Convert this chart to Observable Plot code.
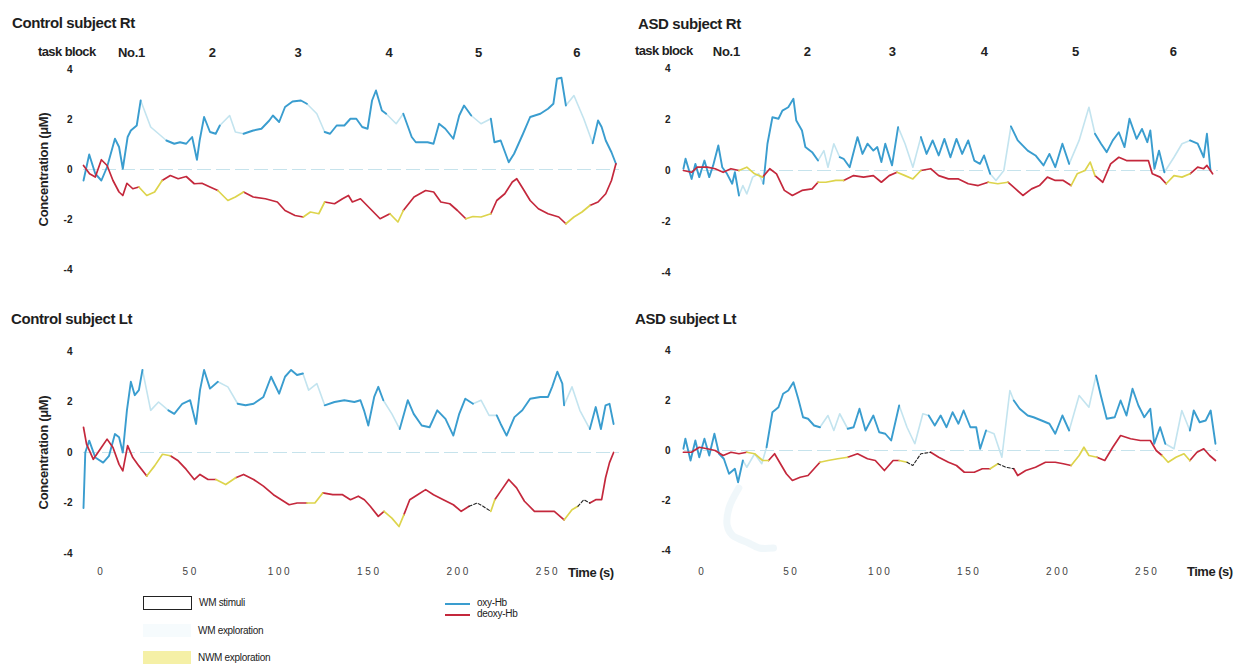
<!DOCTYPE html>
<html><head><meta charset="utf-8">
<script src="https://cdn.jsdelivr.net/npm/d3@7"></script>
<script src="https://cdn.jsdelivr.net/npm/@observablehq/plot@0.6"></script>
<style>
body{margin:0;background:#fff;font-family:"Liberation Sans",Arial,sans-serif;}
#root{position:relative;width:1235px;height:666px;overflow:hidden;background:#fff;}
.abs{position:absolute;white-space:nowrap;color:#1e1e1e;}
.title{font-size:15px;font-weight:bold;letter-spacing:-0.4px;line-height:15px;}
.tb{font-size:13px;font-weight:bold;letter-spacing:-0.6px;line-height:13px;}
.tl{font-size:13px;font-weight:bold;letter-spacing:-0.5px;line-height:13px;}
.lg{font-size:10px;letter-spacing:-0.3px;line-height:10px;color:#222;}
.panel{position:absolute;}
.panel svg{overflow:visible;}
g[aria-label="y-axis tick label"] text{font-weight:bold;font-size:10px;fill:#222;}
g[aria-label="y-axis label"] text{font-weight:bold;font-size:13px;letter-spacing:-0.3px;fill:#222;}
g[aria-label="x-axis tick label"] text{font-size:10px;letter-spacing:2.6px;fill:#444;}
g[aria-label="text"] text{font-weight:bold;font-size:13px;letter-spacing:-0.3px;fill:#222;}
</style>
</head><body>
<div id="root"></div>
<script>
// ---------- data (time s, concentration µM) ----------
const tickTimes = [0, 50, 100, 150, 200, 250];
const yTicks = [-4, -2, 0, 2, 4];
const blockLabels = ["No.1", "2", "3", "4", "5", "6"];
const blocksCtrl = [16.8, 62, 110, 161, 211, 266];
const blocksAsd = [13.5, 59, 106.7, 158.4, 209.6, 264.6];

const ctrlRtOxy = [[-10,-0.44],[-6.8,0.6],[-3.4,-0.17],[0,-0.44],[3.2,0.1],[7.6,1.23],[9.9,0.9],[12,0.03],[14.7,1.3],[16.5,1.56],[19.8,1.76],[22,2.76],[27.6,1.7],[32,1.43],[36.4,1.16],[40.8,1.03],[44,1.09],[47.5,1.03],[50.8,1.3],[53.5,0.39],[55,1.16],[57.5,2.1],[60.8,1.5],[64,1.43],[66.3,1.76],[71.8,2.16],[75,1.5],[79.6,1.43],[85,1.56],[89.6,1.63],[94,1.96],[96,2.16],[99.5,1.9],[102.8,2.5],[107,2.72],[111.7,2.76],[115,2.63],[120.6,2.23],[125,1.5],[128,1.43],[131.7,1.76],[136,1.76],[139.4,2.03],[142.7,2.03],[146,1.7],[149,1.63],[151.5,2.76],[153.7,3.16],[157,2.36],[159.4,2.23],[165,1.83],[169,2.23],[173.7,1.3],[176,1.09],[182.6,1.09],[185.9,1.03],[189,1.83],[192.5,1.63],[197,1.23],[200.3,2.16],[203,2.56],[207,2.16],[212.5,1.83],[218,2.03],[220,1.09],[223.5,1.16],[228,0.29],[231,0.63],[236,1.43],[240,2.1],[245.7,2.23],[250,2.43],[253,2.63],[255,3.63],[257.5,3.67],[260,2.56],[264.5,2.96],[270,2.03],[275,1.05],[278,1.96],[280,1.7],[282.3,1.16],[285.5,0.69],[288,0.23]];
const ctrlRtDeoxy = [[-10,0.16],[-6.6,-0.17],[-3.4,-0.3],[0,0.39],[3.2,0.16],[6.5,-0.44],[9.9,-0.9],[12,-1.04],[14.3,-0.55],[17.6,-0.77],[21,-0.7],[25.4,-1.04],[29.8,-0.9],[34,-0.44],[38.6,-0.24],[43,-0.37],[47.5,-0.28],[52,-0.57],[56.3,-0.55],[60.8,-0.7],[65.2,-0.84],[70.8,-1.24],[75,-1.1],[79.6,-0.9],[85,-1.1],[91.8,-1.17],[98.5,-1.3],[102.8,-1.64],[108.4,-1.84],[113,-1.9],[117,-1.7],[121.7,-1.77],[125,-1.3],[130.5,-1.37],[135,-1.17],[138.3,-1.04],[140.5,-1.3],[145,-1.17],[150.5,-1.57],[156,-1.97],[161.5,-1.77],[166,-2.1],[169,-1.64],[175,-1.1],[181.5,-0.84],[186,-0.9],[190,-1.3],[195,-1.37],[199.3,-1.64],[204,-1.97],[208,-1.88],[212.5,-1.9],[218,-1.77],[221.3,-1.24],[225.8,-0.97],[230,-0.5],[232.5,-0.37],[236,-0.77],[240,-1.24],[244.6,-1.57],[250,-1.77],[256,-1.9],[260,-2.17],[264.5,-1.9],[269,-1.7],[273.4,-1.44],[278,-1.3],[282.3,-0.97],[285.5,-0.44],[288,0.23]];
const ctrlRtExplore = [[23,35],[66,78],[114,124],[160,171],[206,218],[261,273]];

const asdRtOxy = [[-10.6,0.07],[-9.4,0.46],[-6,-0.33],[-3.9,0.26],[-1.7,-0.26],[1.2,0.39],[3.9,-0.26],[6.1,0.2],[9,0.98],[11.2,0.13],[13.9,-0.13],[16.8,-0.52],[18.3,-0.07],[20.6,-0.98],[22.8,-0.59],[25,-0.92],[28.3,-0.26],[31.7,-0.13],[34.3,-0.52],[36.6,1.05],[39.4,2.09],[42.8,2.03],[45,2.35],[48.3,2.48],[51.2,2.81],[52.8,1.96],[56,1.57],[57.9,0.92],[61.7,0.72],[65,0.39],[68.3,0.78],[70.6,0.13],[73.9,1.05],[77.2,0.52],[79.4,0.46],[82.8,0.13],[87.2,1.31],[90,0.65],[92.8,1.05],[96.1,0.78],[98.3,0.92],[100.6,0.33],[102.8,1.05],[106.6,0.2],[110,1.7],[113.9,1.05],[118.3,0.13],[122.8,1.31],[126,0.65],[129.4,1.18],[132.8,0.59],[136,1.24],[139.4,0.52],[142.8,1.24],[146,0.65],[149.4,1.18],[152.8,0.39],[156,0.26],[158.3,0.59],[161.7,-0.13],[165,-0.39],[169.4,0],[173.4,1.73],[177.2,1.18],[182.8,0.78],[187.2,0.59],[191.7,0.2],[195,0.65],[198.3,0.13],[202.3,1.05],[206.1,0.26],[211.7,1.18],[217.2,2.48],[220.6,1.44],[224,1.05],[227.2,0.72],[230.6,1.18],[234,1.5],[237.2,0.92],[240,2.03],[244,1.24],[247,1.63],[250,1.11],[251.7,1.57],[254,0.07],[256.6,0.78],[259.6,-0.07],[265,0.52],[269.5,1.05],[274,1.18],[278.3,1.05],[281.7,0.52],[283.5,1.44],[285.5,0]];
const asdRtDeoxy = [[-10.6,0],[-6,-0.07],[-2.8,0.13],[2.8,0.13],[7.2,0.07],[11.7,-0.07],[16.1,0.07],[20.6,0],[25,0.13],[29.4,-0.13],[33.9,-0.26],[37.9,0.07],[41.7,-0.13],[46.1,-0.78],[50.6,-0.98],[56,-0.78],[61.7,-0.72],[65,-0.46],[69.4,-0.46],[75,-0.39],[79.4,-0.39],[85,-0.2],[90.6,-0.26],[96.1,-0.2],[100.6,-0.46],[105,-0.2],[109.4,-0.07],[113.9,-0.2],[118.3,-0.33],[122.8,0],[128.3,0.07],[132.8,-0.2],[138.3,-0.33],[143.9,-0.33],[149.4,-0.52],[155,-0.59],[160.6,-0.46],[166,-0.52],[171.7,-0.46],[176,-0.72],[180.1,-0.98],[185,-0.72],[189.4,-0.59],[193.9,-0.26],[198.3,-0.39],[202.8,-0.39],[207.2,-0.59],[210.6,-0.13],[215,0],[217.9,0.33],[220.6,-0.2],[225,-0.46],[229.4,0.26],[234,0.52],[238.3,0.39],[245,0.39],[250.6,0.39],[252.8,-0.13],[257.2,-0.26],[260.6,-0.52],[265,-0.2],[269.5,-0.26],[274,-0.13],[278.3,0.13],[281.7,0.07],[283.5,0.2],[286.7,-0.13]];
const asdRtExplore = [[19.5,35],[66,77.5],[111,123],[161,173],[207,220],[260,273]];

const ctrlLtOxy = [[-10,-2.2],[-9,0],[-6.8,0.47],[-3.4,-0.2],[1,-0.4],[4.3,-0.13],[7.6,0.73],[9.9,0.6],[12,0],[14.3,1.67],[16.5,2.8],[18.7,2.27],[21,2.47],[23,3.27],[27.6,1.67],[32,2.0],[37.5,1.67],[40.8,1.53],[45.3,1.93],[49.7,2.07],[53,1.13],[55.2,2.47],[57.5,3.27],[60.8,2.53],[65.2,2.8],[70.8,2.6],[76.3,1.93],[80.7,1.87],[85.2,1.93],[90.7,2.2],[95,3.0],[99.5,2.33],[102.8,3.0],[106.2,3.27],[109.5,3.07],[112.8,3.13],[116,2.47],[120.6,2.73],[125,1.87],[130.5,2.0],[136,2.07],[141.6,2.0],[145,2.07],[147,1.67],[149.4,1.07],[152.7,2.2],[155,2.6],[157.8,2.07],[162.6,1.53],[167,0.93],[171.5,2.07],[174.8,1.53],[179.3,1.07],[183.7,1.0],[188,1.67],[192.6,1.33],[197,0.67],[200.3,1.53],[203.7,2.13],[208,1.93],[212.5,2.07],[217,1.47],[221.3,1.47],[223.5,1.13],[226.8,0.67],[231.2,1.4],[235.6,1.67],[240,2.13],[245.7,2.2],[250,2.2],[252.3,2.6],[255.2,3.2],[258,2.73],[259,1.87],[263.4,2.6],[267.8,1.67],[273.4,0.93],[276.7,1.8],[279.6,0.93],[282.2,1.87],[284.4,1.93],[286.7,1.13]];
const ctrlLtDeoxy = [[-10,1.0],[-8.3,0.33],[-4.5,-0.27],[0,0.2],[3.2,0.53],[6.5,0.2],[9.9,-0.47],[12,-0.73],[14.7,0.27],[17.6,-0.2],[21,-0.53],[25.4,-0.93],[29.8,-0.53],[34.2,-0.07],[38.6,-0.13],[43,-0.33],[47.5,-0.67],[52,-1.07],[55.2,-0.87],[59.7,-1.07],[64.1,-1.07],[69.6,-1.27],[75.2,-1.0],[79.6,-0.87],[85.2,-1.07],[90.7,-1.33],[96.3,-1.67],[100.7,-1.87],[105.1,-2.07],[109.6,-2.0],[115,-2.0],[119.5,-2.0],[123.9,-1.6],[129.5,-1.67],[135,-1.67],[139.4,-1.87],[143.8,-1.73],[147.2,-1.87],[150.5,-2.13],[155,-2.53],[158.2,-2.33],[162.6,-2.6],[166.6,-2.93],[169.3,-2.47],[172.6,-1.87],[177,-1.67],[181.5,-1.47],[185.9,-1.67],[191.4,-1.87],[197,-2.07],[201.4,-2.33],[205.8,-2.13],[210.3,-2.0],[213.6,-2.13],[218,-2.33],[220.2,-1.87],[223.5,-1.53],[228,-1.07],[232.4,-1.4],[236.8,-1.93],[242.4,-2.33],[248,-2.33],[253.5,-2.33],[259,-2.67],[263.4,-2.27],[266.7,-2.13],[270,-1.87],[273.4,-2.0],[276.7,-1.87],[280,-1.87],[282.2,-1.0],[284.4,-0.4],[286.7,0]];
const ctrlLtExplore = [[24,36.5],[66,76.5],[114,124],[157,169],[208,220],[260,273]];
const ctrlLtStim = [[207,219],[267,272]];

const asdLtOxy = [[-10.6,0.07],[-9.5,0.47],[-6.6,-0.4],[-3.9,0.4],[-1.7,-0.27],[1.2,0.47],[3.9,-0.2],[6.8,0.67],[9.4,-0.13],[12.1,-0.33],[15,-0.93],[18.3,-0.73],[20.1,-1.27],[22.8,-0.4],[25,-0.67],[29.4,-0.13],[33.4,-0.53],[36.1,0.13],[39.4,1.53],[42.8,1.73],[45.4,2.27],[48.3,2.4],[51.2,2.73],[53.9,2.07],[56.6,1.33],[59.4,1.27],[62.8,1.0],[66.1,0.93],[70.6,1.4],[73.9,0.8],[77.2,1.47],[81.7,0.87],[85,0.93],[88.3,1.67],[91.7,0.8],[96.1,1.4],[99.4,0.73],[102.8,0.67],[106.1,0.4],[110.6,1.8],[115,0.93],[119.4,0.27],[123.9,1.47],[127.2,1.4],[130.6,1.0],[133.9,1.4],[137.2,0.93],[140.6,1.53],[143.9,1.07],[146.8,1.6],[150.6,0.93],[153.9,0.93],[156.1,0.07],[159.4,0.8],[163.9,0.67],[168.3,-0.27],[172.8,2.4],[175,2.0],[178.3,1.67],[182.8,1.4],[186.1,1.33],[190.6,1.2],[195,1.07],[198.3,0.67],[202.3,1.4],[206.1,0.8],[211.7,2.2],[217.2,1.73],[221.2,3.0],[223.9,2.2],[227.2,1.27],[231.7,1.33],[235,2.0],[238.3,1.4],[241.7,2.47],[245,1.8],[248.3,1.33],[251.7,1.67],[253.9,0.27],[257.2,0.93],[260.1,0.27],[265,0.07],[269.4,1.6],[273.9,0.8],[276.1,1.6],[279.4,1.13],[282.8,1.2],[285.6,1.6],[288.3,0.27]];
const asdLtDeoxy = [[-10.6,-0.07],[-6.1,-0.07],[-1.7,0.13],[2.8,0.07],[7.2,0],[11.7,-0.2],[16.1,-0.07],[20.6,-0.13],[25,-0.07],[29.4,-0.13],[33.9,-0.4],[37.2,-0.4],[40.6,-0.13],[43.9,-0.53],[47.2,-0.93],[50.6,-1.2],[55,-1.07],[59.4,-1.0],[62.8,-0.73],[66.1,-0.47],[70.6,-0.4],[76.1,-0.33],[81.7,-0.27],[87.2,-0.13],[92.8,-0.33],[97.2,-0.4],[102.3,-0.8],[107.2,-0.4],[110.6,-0.4],[115,-0.47],[118.3,-0.6],[122.8,-0.13],[128.3,-0.07],[132.8,-0.27],[138.3,-0.47],[142.8,-0.6],[147.2,-0.87],[152.8,-0.87],[157.3,-0.73],[161.7,-0.73],[166.1,-0.53],[170.6,-0.67],[175,-0.73],[177.2,-1.0],[181.7,-0.8],[187.2,-0.67],[192.8,-0.47],[198.3,-0.47],[202.8,-0.53],[207.2,-0.6],[211.7,-0.2],[214.4,0.13],[217.2,-0.2],[221.7,-0.27],[226.1,-0.4],[230.6,0.13],[235,0.6],[240.6,0.47],[246.1,0.4],[251.7,0.4],[255,0],[258.3,-0.2],[261.7,-0.47],[266.1,-0.27],[270.6,-0.13],[273.9,-0.4],[277.9,-0.07],[281.7,0.07],[285,-0.2],[288.3,-0.4]];
const asdLtExplore = [[23,36],[66,80],[111,126],[160,174],[207,220],[260,273]];
const asdLtStim = [[113,126],[164,175]];
const asdLtSmudge = [[20.5,-1.5],[15,-2.3],[14,-3.0],[17,-3.4],[21,-3.55],[26,-3.7],[32,-3.9],[40,-3.9]];

// ---------- styling ----------
const oxyColor = "#3a9dcf", oxyFaint = "#c3e4ef";
const deoxyColor = "#c4283c", nwmColor = "#ddd44c", stimColor = "#222";
const zeroColor = "#c6e3ec";

function segRuns(points, specials) {
  const kindAt = t => { for (const s of specials) for (const [a, b] of s.iv) if (t >= a && t <= b) return s.kind; return "base"; };
  const rows = []; let run = 0, prev = null;
  for (let i = 0; i < points.length - 1; i++) {
    const k = kindAt((points[i][0] + points[i + 1][0]) / 2);
    if (k !== prev) { run++; rows.push({t: points[i][0], v: points[i][1], run, kind: k}); prev = k; }
    rows.push({t: points[i + 1][0], v: points[i + 1][1], run, kind: k});
  }
  return rows;
}

function makePanel(c) {
  const oxyRows = segRuns(c.oxy, [{kind: "explore", iv: c.explore}]);
  const deoRows = segRuns(c.deoxy, [{kind: "stim", iv: c.stim || []}, {kind: "explore", iv: c.explore}]);
  const L = (rows, kind, o) => Plot.line(rows.filter(d => d.kind === kind), {x: "t", y: "v", z: "run", ...o});
  const marks = [Plot.ruleY([0], {stroke: zeroColor, strokeWidth: 1.2, strokeDasharray: "14,5"})];
  if (c.smudge) marks.push(Plot.line(c.smudge, {x: d => d[0], y: d => d[1], stroke: "#d3e9f1", strokeWidth: 7, strokeOpacity: 0.35, curve: "catmull-rom"}));
  marks.push(
    L(oxyRows, "explore", {stroke: oxyFaint, strokeWidth: 1.6}),
    L(oxyRows, "base", {stroke: oxyColor, strokeWidth: 1.9}),
    L(deoRows, "base", {stroke: deoxyColor, strokeWidth: 1.7}),
    L(deoRows, "explore", {stroke: nwmColor, strokeWidth: 1.7}),
    L(deoRows, "stim", {stroke: stimColor, strokeWidth: 1.1, strokeDasharray: "3,2"}),
    Plot.axisY({ticks: yTicks, tickSize: 0, tickPadding: c.yPad, tickFormat: d => String(d),
      label: c.ylabel ? "Concentration (μM)" : null, labelAnchor: "center", labelArrow: "none", labelOffset: 45})
  );
  if (c.bottomAxis) marks.push(Plot.axisX({ticks: tickTimes, tickSize: 0, tickPadding: c.xPad, label: null}));
  if (c.blocks) marks.push(Plot.text(c.blocks.map((t, i) => ({t, label: blockLabels[i]})), {x: "t", text: "label", frameAnchor: "top", dy: -22}));
  const svg = Plot.plot({
    width: c.width, height: c.height,
    marginLeft: c.mL, marginRight: c.mR, marginTop: c.mT, marginBottom: c.mB,
    x: {domain: [-10, 290], axis: c.bottomAxis ? undefined : null},
    y: {domain: [-4, 4]},
    style: {fontFamily: '"Liberation Sans", Arial, sans-serif', background: "transparent", overflow: "visible", color: "#222"},
    marks
  });
  const div = document.createElement("div");
  div.className = "panel";
  div.style.left = c.left + "px"; div.style.top = c.top + "px";
  div.appendChild(svg);
  root.appendChild(div);
}

const root = document.getElementById("root");
makePanel({left: 0, top: 40, width: 625, height: 250, mL: 83, mR: 6, mT: 29, mB: 21, yPad: 11, ylabel: true,
  oxy: ctrlRtOxy, deoxy: ctrlRtDeoxy, explore: ctrlRtExplore, blocks: blocksCtrl});
makePanel({left: 620, top: 40, width: 615, height: 250, mL: 64, mR: 17, mT: 28, mB: 18, yPad: 14, ylabel: false,
  oxy: asdRtOxy, deoxy: asdRtDeoxy, explore: asdRtExplore, blocks: blocksAsd});
makePanel({left: 0, top: 300, width: 625, height: 290, mL: 83, mR: 6, mT: 51, mB: 37, yPad: 11, ylabel: true,
  bottomAxis: true, xPad: 14, oxy: ctrlLtOxy, deoxy: ctrlLtDeoxy, explore: ctrlLtExplore, stim: ctrlLtStim});
makePanel({left: 620, top: 300, width: 615, height: 290, mL: 64, mR: 17, mT: 50, mB: 40, yPad: 14, ylabel: false,
  bottomAxis: true, xPad: 17, oxy: asdLtOxy, deoxy: asdLtDeoxy, explore: asdLtExplore, stim: asdLtStim, smudge: asdLtSmudge});

// ---------- text & legend ----------
const html = `
<div class="abs title" style="left:12px;top:15px">Control subject Rt</div>
<div class="abs title" style="left:638px;top:16px">ASD subject Rt</div>
<div class="abs title" style="left:11px;top:311px">Control subject Lt</div>
<div class="abs title" style="left:635px;top:311px">ASD subject Lt</div>
<div class="abs tb" style="left:38px;top:45px">task block</div>
<div class="abs tb" style="left:635px;top:44px">task block</div>
<div class="abs tl" style="left:568px;top:566px">Time (s)</div>
<div class="abs tl" style="left:1187px;top:565px">Time (s)</div>
<div class="abs" style="left:143px;top:596px;width:47px;height:12px;border:1px solid #222;"></div>
<div class="abs lg" style="left:199px;top:598px">WM stimuli</div>
<div class="abs" style="left:143px;top:624px;width:48px;height:13px;background:#f6fbfd;"></div>
<div class="abs lg" style="left:198px;top:626px">WM exploration</div>
<div class="abs" style="left:143px;top:651px;width:48px;height:13px;background:#f5f0a6;"></div>
<div class="abs lg" style="left:198px;top:653px">NWM exploration</div>
<div class="abs" style="left:445px;top:603px;width:25px;height:1.5px;background:${oxyColor};"></div>
<div class="abs lg" style="left:477px;top:598px">oxy-Hb</div>
<div class="abs" style="left:445px;top:614px;width:25px;height:1.5px;background:${deoxyColor};"></div>
<div class="abs lg" style="left:477px;top:609px">deoxy-Hb</div>`;
root.insertAdjacentHTML("beforeend", html);
</script>
</body></html>
